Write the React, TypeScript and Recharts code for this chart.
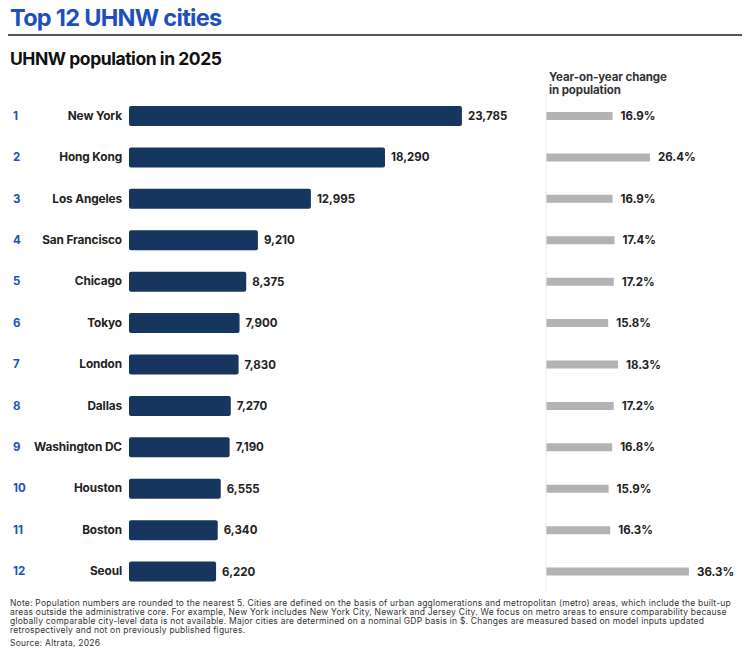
import React from 'react';
import { Bar, BarChart, LabelList, XAxis, YAxis } from 'recharts';

const ranks = [1, 2, 3, 4, 5, 6, 7, 8, 9, 10, 11, 12];
const cities = [
  'New York', 'Hong Kong', 'Los Angeles', 'San Francisco', 'Chicago', 'Tokyo',
  'London', 'Dallas', 'Washington DC', 'Houston', 'Boston', 'Seoul',
];
const population = [23785, 18290, 12995, 9210, 8375, 7900, 7830, 7270, 7190, 6555, 6340, 6220];
const yoyChange = [16.9, 26.4, 16.9, 17.4, 17.2, 15.8, 18.3, 17.2, 16.8, 15.9, 16.3, 36.3];

const rows = cities.map((city, i) => ({
  rank: ranks[i],
  city,
  population: population[i],
  change: yoyChange[i],
}));

const font = 'Inter, "Noto Sans", sans-serif';
const navy = '#17365f';
const blue = '#1d4fbf';

const CityTick = (props: any) => {
  const { y, payload, index } = props;
  return (
    <g>
      <text x={13} y={y} dy={4} fill={blue} fontSize={11.5} fontWeight={700} fontFamily={font}>
        {ranks[index]}
      </text>
      <text x={122} y={y} dy={4} textAnchor="end" fill="#222" fontSize={11.8} fontWeight={700} fontFamily={font} letterSpacing={-0.1}>
        {payload.value}
      </text>
    </g>
  );
};

const margins = { top: 95, bottom: 58 };
const headerStyle = { position: 'absolute' as const, left: 549, fontSize: 11.5, fontWeight: 700, color: '#333', lineHeight: '13px', letterSpacing: -0.1, whiteSpace: 'nowrap' as const };
const noteStyle = { position: 'absolute' as const, left: 10, fontSize: 8.5, lineHeight: '9px', color: '#333', letterSpacing: 0.22, whiteSpace: 'nowrap' as const };

export default function App() {
  return (
    <div style={{ position: 'absolute', left: 0, top: 0, width: 750, height: 650, background: '#fff', fontFamily: font }}>
      <div style={{ position: 'absolute', left: 10, top: 3, fontSize: 23.5, fontWeight: 700, color: blue, letterSpacing: -0.7 }}>
        Top 12 UHNW cities
      </div>
      <div style={{ position: 'absolute', left: 8, top: 34, width: 734, height: 2, background: '#555' }} />
      <div style={{ position: 'absolute', left: 10, top: 48, fontSize: 17.5, fontWeight: 700, color: '#111', letterSpacing: -0.45 }}>
        UHNW population in 2025
      </div>
      <div style={{ ...headerStyle, top: 71 }}>Year-on-year change</div>
      <div style={{ ...headerStyle, top: 84 }}>in population</div>

      <div style={{ position: 'absolute', left: 0, top: 0 }}>
        <BarChart width={530} height={650} data={rows} layout="vertical" margin={{ top: margins.top, bottom: margins.bottom, left: 0, right: 0 }}>
          <XAxis type="number" hide domain={[0, 28650]} />
          <YAxis type="category" dataKey="city" width={129} axisLine={false} tickLine={false} tick={<CityTick />} interval={0} />
          <Bar dataKey="population" fill={navy} barSize={20} radius={2} isAnimationActive={false}>
            <LabelList
              dataKey="population"
              position="right"
              offset={6}
              formatter={(v: any) => Number(v).toLocaleString('en-US')}
              style={{ fill: '#222', fontSize: 11.5, fontWeight: 700, fontFamily: font }}
            />
          </Bar>
        </BarChart>
      </div>

      <div style={{ position: 'absolute', left: 545, top: 0 }}>
        <BarChart width={205} height={650} data={rows} layout="vertical" margin={{ top: margins.top, bottom: margins.bottom, left: 0, right: 0 }}>
          <XAxis type="number" hide domain={[0, 51.8]} />
          <YAxis type="category" dataKey="city" width={1} tick={false} tickLine={false} axisLine={{ stroke: '#ececec' }} />
          <Bar dataKey="change" fill="#b3b3b3" barSize={8} isAnimationActive={false}>
            <LabelList
              dataKey="change"
              position="right"
              offset={8}
              formatter={(v: any) => `${Number(v).toFixed(1)}%`}
              style={{ fill: '#222', fontSize: 11.5, fontWeight: 700, fontFamily: font }}
            />
          </Bar>
        </BarChart>
      </div>

      <div style={{ ...noteStyle, top: 598.5 }}>
        Note: Population numbers are rounded to the nearest 5. Cities are defined on the basis of urban agglomerations and metropolitan (metro) areas, which include the built-up
        <br />
        areas outside the administrative core. For example, New York includes New York City, Newark and Jersey City. We focus on metro areas to ensure comparability because
        <br />
        globally comparable city-level data is not available. Major cities are determined on a nominal GDP basis in $. Changes are measured based on model inputs updated
        <br />
        retrospectively and not on previously published figures.
      </div>
      <div style={{ ...noteStyle, top: 638.5 }}>Source: Altrata, 2026</div>
    </div>
  );
}
